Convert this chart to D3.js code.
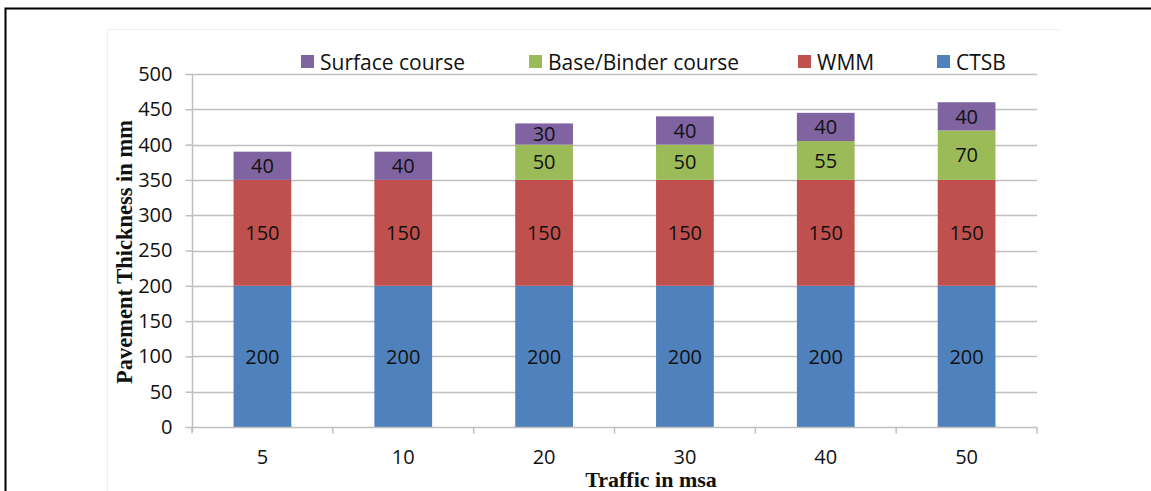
<!DOCTYPE html>
<html><head><meta charset="utf-8">
<script src="https://cdn.jsdelivr.net/npm/d3@7"></script>
<style>body{margin:0;background:#fff}svg{display:block}</style>
</head><body>
<script>
const categories = ["5","10","20","30","40","50"];
const ctsb = [200,200,200,200,200,200];
const wmm = [150,150,150,150,150,150];
const baseBinder = [0,0,50,50,55,70];
const surface = [40,40,30,40,40,40];
const yTicks = [0,50,100,150,200,250,300,350,400,450,500];
const seriesNames = ["CTSB","WMM","Base/Binder course","Surface course"];
const legendOrder = ["Surface course","Base/Binder course","WMM","CTSB"];
const colors = {"CTSB":"#4F81BD","WMM":"#C0504D","Base/Binder course":"#9BBB59","Surface course":"#8064A2"};

const W=1151,H=491;
const sans="'Open Sans', 'Liberation Sans', sans-serif";
const serif="'Liberation Serif','Times New Roman',serif";
const svg=d3.select("body").append("svg").attr("width",W).attr("height",H);
svg.append("rect").attr("width",W).attr("height",H).attr("fill","#fff");
svg.append("path").attr("d","M5.5,491 V8.5 H1151").attr("fill","none").attr("stroke","#000").attr("stroke-width",2);
svg.append("path").attr("d","M107.5,491 V29.5 H1060").attr("fill","none").attr("stroke","#eeeeee").attr("stroke-width",1);

const m={l:192,r:1037,t:74,b:427};
const x=d3.scaleBand().domain(categories).range([m.l,m.r]).paddingInner(0.59).paddingOuter(0.295);
const y=d3.scaleLinear().domain([0,500]).range([m.b,m.t]);

svg.append("g").selectAll("line").data(yTicks.slice(1)).join("line")
  .attr("x1",m.l).attr("x2",m.r).attr("y1",d=>Math.round(y(d))+0.5).attr("y2",d=>Math.round(y(d))+0.5)
  .attr("stroke","#bfbfbf").attr("stroke-width",1.5);

const table=categories.map((c,i)=>({cat:c,"CTSB":ctsb[i],"WMM":wmm[i],"Base/Binder course":baseBinder[i],"Surface course":surface[i]}));
const stack=d3.stack().keys(seriesNames)(table);
const g=svg.append("g");
stack.forEach(s=>{
  g.selectAll(null).data(s.filter(d=>d[1]-d[0]>0)).join("rect")
    .attr("x",d=>x(d.data.cat)).attr("width",x.bandwidth())
    .attr("y",d=>y(d[1])).attr("height",d=>y(d[0])-y(d[1]))
    .attr("fill",colors[s.key]);
  g.selectAll(null).data(s.filter(d=>d[1]-d[0]>0)).join("text")
    .attr("x",d=>x(d.data.cat)+x.bandwidth()/2).attr("y",d=>(y(d[0])+y(d[1]))/2)
    .attr("dy","0.36em").attr("text-anchor","middle")
    .attr("font-family",sans).attr("font-size",20)
    .attr("fill","#111").text(d=>d[1]-d[0]);
});

const ya=svg.append("g").attr("transform",`translate(${m.l+0.5},0)`)
  .call(d3.axisLeft(y).tickValues(yTicks).tickSize(7).tickPadding(13));
ya.select(".domain").attr("stroke","#bfbfbf").attr("stroke-width",1.5).attr("d",`M0,${m.b+5}V${m.t}`);
ya.selectAll(".tick line").attr("stroke","#bfbfbf").attr("stroke-width",1.5);
ya.selectAll("text").attr("font-family",sans).attr("font-size",20).attr("fill","#111");

const xa=svg.append("g").attr("transform",`translate(0,${m.b+0.5})`);
xa.append("line").attr("x1",m.l).attr("x2",m.r).attr("stroke","#bfbfbf").attr("stroke-width",1.5);
const bounds=categories.map(c=>x(c)-x.step()*x.paddingInner()/2).concat([m.r]);
xa.selectAll(null).data(bounds).join("line").attr("x1",d=>d).attr("x2",d=>d).attr("y1",0).attr("y2",6)
  .attr("stroke","#bfbfbf").attr("stroke-width",1.5);
xa.selectAll(null).data(categories).join("text")
  .attr("x",d=>x(d)+x.bandwidth()/2).attr("y",36).attr("text-anchor","middle")
  .attr("font-family",sans).attr("font-size",20).attr("fill","#111").text(d=>d);

svg.append("text").attr("x",651).attr("y",487).attr("text-anchor","middle")
  .attr("font-family",serif).attr("font-weight","bold").attr("font-size",22)
  .attr("fill","#111").text("Traffic in msa");
svg.append("text").attr("transform","translate(132,252) rotate(-90)").attr("text-anchor","middle")
  .attr("font-family",serif).attr("font-weight","bold").attr("font-size",22.5)
  .attr("fill","#111").text("Pavement Thickness in mm");

const legX=[301,529,798,937];
const lg=svg.append("g");
legendOrder.forEach((k,i)=>{
  lg.append("rect").attr("x",legX[i]).attr("y",55).attr("width",13).attr("height",13).attr("fill",colors[k]);
  lg.append("text").attr("x",legX[i]+19).attr("y",62).attr("dy","0.36em")
    .attr("font-family",sans).attr("font-size",21).attr("fill","#111").text(k);
});
</script>
</body></html>
